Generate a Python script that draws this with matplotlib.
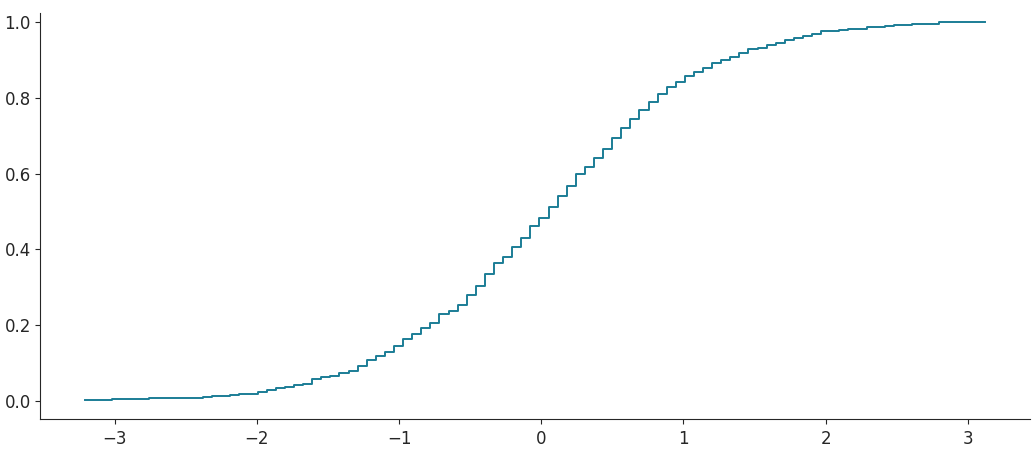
import numpy as np
import matplotlib
matplotlib.use("Agg")
import matplotlib.pyplot as plt

# grid the cumulative curve was evaluated on
x_start = -3.21
x_stop = 3.12
n_points = 100

# cumulative share on each interval of the grid
cum_share = [
    0.0025, 0.0025, 0.0025, 0.0055, 0.0055, 0.0055, 0.0055, 0.0085, 0.0085, 0.0085,
    0.0085, 0.0085, 0.0085, 0.011, 0.014, 0.014, 0.017, 0.019, 0.019, 0.0245,
    0.030, 0.033, 0.038, 0.0425, 0.046, 0.059, 0.062, 0.066, 0.074, 0.079,
    0.092, 0.108, 0.119, 0.130, 0.146, 0.164, 0.178, 0.193, 0.207, 0.230,
    0.238, 0.252, 0.280, 0.304, 0.335, 0.364, 0.380, 0.407, 0.431, 0.462,
    0.484, 0.512, 0.541, 0.568, 0.599, 0.618, 0.642, 0.666, 0.694, 0.721,
    0.745, 0.769, 0.790, 0.811, 0.829, 0.843, 0.859, 0.869, 0.880, 0.893,
    0.900, 0.909, 0.919, 0.930, 0.933, 0.939, 0.945, 0.953, 0.959, 0.963,
    0.968, 0.977, 0.977, 0.980, 0.983, 0.983, 0.988, 0.988, 0.990, 0.993,
    0.993, 0.996, 0.996, 0.996, 1.0, 1.0, 1.0, 1.0, 1.0,
]

xticks = [-3, -2, -1, 0, 1, 2, 3]
yticks = [0.0, 0.2, 0.4, 0.6, 0.8, 1.0]

grid = np.linspace(x_start, x_stop, n_points)
levels = cum_share + [cum_share[-1]]

fig, ax = plt.subplots(figsize=(10.35, 4.5), dpi=100)
fig.subplots_adjust(left=0.0386, right=0.995, bottom=0.069, top=0.971)

ax.step(grid, levels, where="post", color="#1b7d96", linewidth=1.4)

ax.set_ylim(-0.0475, 1.024)
ax.set_xticks(xticks)
ax.set_yticks(yticks)
ax.set_yticklabels([f"{t:.1f}" for t in yticks])
ax.tick_params(labelsize=12, length=3.6, width=0.8, color="#262626",
               labelcolor="#262626", pad=3)
ax.tick_params(axis="x", pad=4)
for side in ("top", "right"):
    ax.spines[side].set_visible(False)
for side in ("left", "bottom"):
    ax.spines[side].set_linewidth(0.8)
    ax.spines[side].set_color("#262626")

fig.savefig("out.png", dpi=100)
